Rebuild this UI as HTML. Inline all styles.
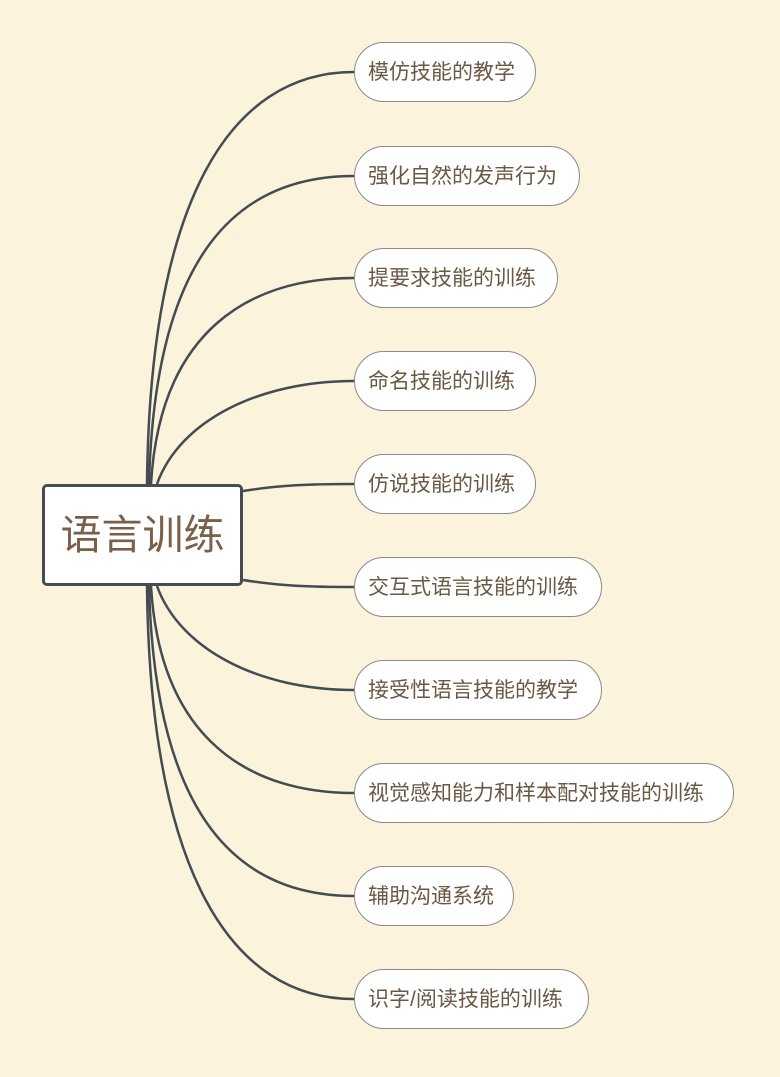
<!DOCTYPE html>
<html><head><meta charset="utf-8"><style>
html,body{margin:0;padding:0;}
body{width:780px;height:1077px;background:#fbf3dc;position:relative;overflow:hidden;font-family:"Liberation Sans","Noto Sans CJK SC",sans-serif;}
svg{position:absolute;left:0;top:0;}
.n{position:absolute;left:354px;height:60px;box-sizing:border-box;border:1px solid #8a8a8a;border-radius:30px;background:#fff;color:#6b5843;font-size:21px;line-height:60px;padding-left:13px;}
.c{position:absolute;left:42px;top:484px;width:201px;height:102px;box-sizing:border-box;border:3px solid #454c52;border-radius:5px;background:#fff;color:#7a6048;font-size:41px;line-height:96px;text-align:center;}
</style></head><body>
<svg width="780" height="1077" fill="none" stroke="#444b51" stroke-width="2.5">
<path d="M147,484 C150,200 230,72 354,72"/>
<path d="M149,484 C155,250 240,176 354,176"/>
<path d="M151,484 C160,330 250,278 354,278"/>
<path d="M157,484 C180,420 260,381 354,381"/>
<path d="M243,491 C280,485 310,484 354,484"/>
<path d="M243,580 C280,586 310,587 354,587"/>
<path d="M157,586 C180,650 260,690 354,690"/>
<path d="M151,586 C160,740 250,793 354,793"/>
<path d="M149,586 C155,820 240,896 354,896"/>
<path d="M147,586 C150,870 230,999 354,999"/>
</svg>
<div class="c">语言训练</div>
<div class="n" style="top:42px;width:182px">模仿技能的教学</div>
<div class="n" style="top:146px;width:226px">强化自然的发声行为</div>
<div class="n" style="top:248px;width:204px">提要求技能的训练</div>
<div class="n" style="top:351px;width:182px">命名技能的训练</div>
<div class="n" style="top:454px;width:182px">仿说技能的训练</div>
<div class="n" style="top:557px;width:248px">交互式语言技能的训练</div>
<div class="n" style="top:660px;width:248px">接受性语言技能的教学</div>
<div class="n" style="top:763px;width:380px">视觉感知能力和样本配对技能的训练</div>
<div class="n" style="top:866px;width:160px">辅助沟通系统</div>
<div class="n" style="top:969px;width:235px">识字/阅读技能的训练</div>
</body></html>
